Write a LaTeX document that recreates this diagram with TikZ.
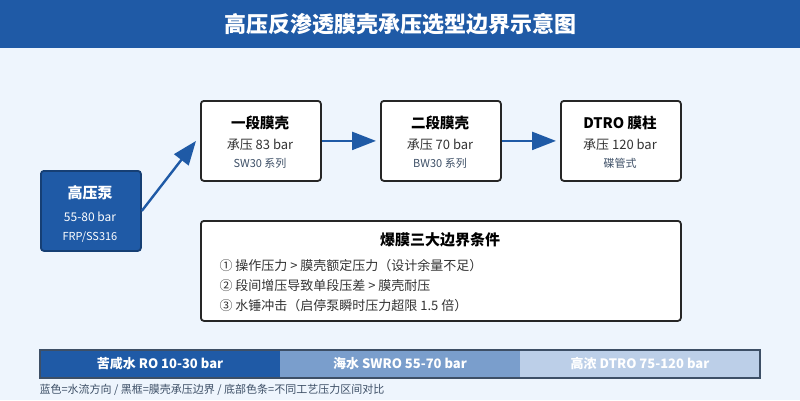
\documentclass[tikz,border=0pt]{standalone}
\usepackage{fontspec}
\setmainfont{Noto Sans CJK SC}
\usetikzlibrary{arrows.meta}
\definecolor{bl}{HTML}{1F5AA6}
\definecolor{bg}{HTML}{EEF5FD}
\definecolor{mid}{HTML}{7A9ECC}
\definecolor{lt}{HTML}{BCCFE8}
\definecolor{sub}{HTML}{3D4F66}
\begin{document}
\begin{tikzpicture}[x=1pt,y=-1pt,
 box/.style={draw=black!85,line width=1.8pt,rounded corners=3pt,fill=white,minimum width=120pt,minimum height=80pt,anchor=north west},
 flow/.style={draw=bl,line width=2.4pt,-{Triangle[length=24pt,width=18pt]}},
 txt/.style={font=\fontsize{13}{15}\selectfont,text=black!80}]
\useasboundingbox (0,0) rectangle (800,400);
\fill[bg] (0,0) rectangle (800,400);
\fill[bl] (0,0) rectangle (800,48);
\node[text=white,font=\fontsize{22}{24}\selectfont\bfseries] (title) at (400,24) {高压反渗透膜壳承压选型边界示意图};
\node[box,fill=bl,draw=bl!70!black,minimum width=100pt] (p) at (40,170) {};
\node[text=white,font=\fontsize{15}{17}\selectfont\bfseries] (p1) at (90,193) {高压泵};
\node[text=white,font=\fontsize{12}{14}\selectfont] (p2) at (90,217) {55-80 bar};
\node[text=white,font=\fontsize{11}{13}\selectfont] (p3) at (90,237) {FRP/SS316};
\foreach \n/\x/\a/\b/\c in {a/200/一段膜壳/承压 83 bar/SW30 系列, b/380/二段膜壳/承压 70 bar/BW30 系列, c/560/DTRO 膜柱/承压 120 bar/碟管式}{
 \node[box] (\n) at (\x,100) {};
 \node[font=\fontsize{14.5}{16}\selectfont\bfseries] (\n1) at (\x+60,123) {\a};
 \node[txt] (\n2) at (\x+60,145) {\b};
 \node[font=\fontsize{11}{13}\selectfont,text=sub] (\n3) at (\x+60,163) {\c};
}
\draw[flow] (p.east) -- ([xshift=-4pt]a.west);
\draw[flow] (a.east) -- ([xshift=-4pt]b.west);
\draw[flow] (b.east) -- ([xshift=-4pt]c.west);
\node[box,minimum width=480pt,minimum height=100pt] (r) at (200,220) {};
\node[font=\fontsize{15}{17}\selectfont\bfseries] (r0) at (440,240) {爆膜三大边界条件};
\node[txt,anchor=west] (r1) at (216,266) {① 操作压力 > 膜壳额定压力（设计余量不足）};
\node[txt,anchor=west] (r2) at (216,286) {② 段间增压导致单段压差 > 膜壳耐压};
\node[txt,anchor=west] (r3) at (216,306) {③ 水锤冲击（启停泵瞬时压力超限 1.5 倍）};
\fill[bl] (40,350) rectangle (280,378);
\fill[mid] (280,350) rectangle (520,378);
\fill[lt] (520,350) rectangle (760,378);
\draw[sub,line width=1.2pt] (40,350) rectangle (760,378);
\node[text=white,font=\fontsize{13}{15}\selectfont\bfseries] (s1) at (160,364) {苦咸水 RO 10-30 bar};
\node[text=white,font=\fontsize{13}{15}\selectfont\bfseries] (s2) at (400,364) {海水 SWRO 55-70 bar};
\node[text=white,font=\fontsize{13}{15}\selectfont\bfseries] (s3) at (640,364) {高浓 DTRO 75-120 bar};
\node[anchor=west,font=\fontsize{11}{13}\selectfont,text=sub] (fn) at (36,390) {蓝色=水流方向 / 黑框=膜壳承压边界 / 底部色条=不同工艺压力区间对比};
\end{tikzpicture}
\end{document}
